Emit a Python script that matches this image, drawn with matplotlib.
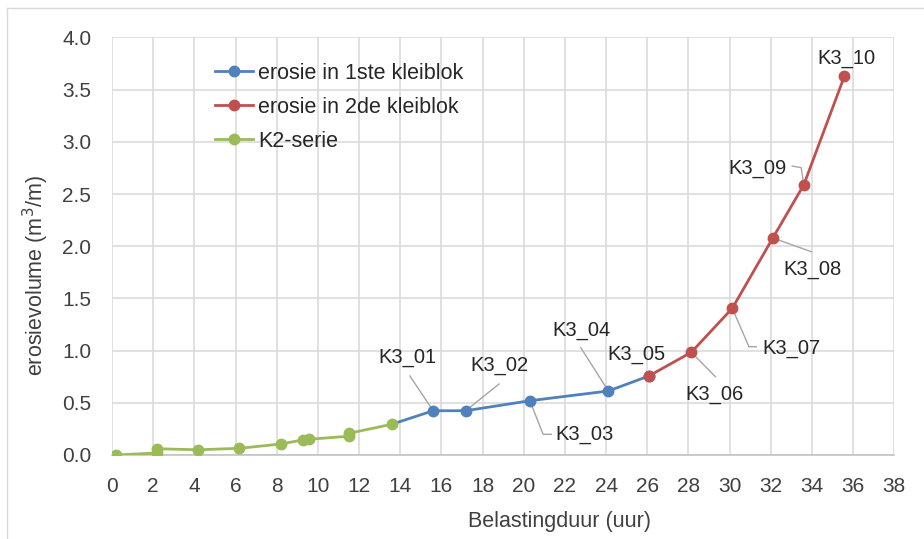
import matplotlib
matplotlib.use("Agg")
import matplotlib.pyplot as plt
from matplotlib.lines import Line2D

plt.rcParams['font.family'] = ['Liberation Sans', 'DejaVu Sans']

# --- data ---
k2_t = [0.19, 2.2, 2.2, 4.17, 6.18, 8.19, 9.26, 9.58, 11.52, 11.52, 13.58]
k2_v = [0.0, 0.02, 0.06, 0.05, 0.064, 0.105, 0.144, 0.151, 0.18, 0.208, 0.294]

blok1_t = [13.58, 15.6, 17.18, 20.3, 24.11, 26.08]
blok1_v = [0.294, 0.424, 0.424, 0.52, 0.613, 0.757]

blok2_t = [26.08, 28.14, 30.13, 32.1, 33.6, 35.58]
blok2_v = [0.757, 0.984, 1.405, 2.079, 2.586, 3.63]

k3_labels = ['K3_01', 'K3_02', 'K3_03', 'K3_04', 'K3_05',
             'K3_06', 'K3_07', 'K3_08', 'K3_09', 'K3_10']
k3_t = blok1_t[1:] + blok2_t[1:]
k3_v = blok1_v[1:] + blok2_v[1:]

series_names = ['erosie in 1ste kleiblok', 'erosie in 2de kleiblok', 'K2-serie']
colors = ['#4F81BD', '#C0504D', '#9BBB59']

x_ticks = list(range(0, 40, 2))
y_ticks = [0.0, 0.5, 1.0, 1.5, 2.0, 2.5, 3.0, 3.5, 4.0]

# label layout: (text pos, leader path points) in data coordinates
label_layout = {
    'K3_01': ((14.37, 0.93), [(14.47, 0.757)]),
    'K3_02': ((18.83, 0.853), [(18.8, 0.68)]),
    'K3_03': ((22.96, 0.201), [(20.94, 0.198), (21.34, 0.198)]),
    'K3_04': ((22.82, 1.197), [(22.77, 1.028)]),
    'K3_05': ((25.49, 0.958), []),
    'K3_06': ((29.27, 0.575), [(29.31, 0.75)]),
    'K3_07': ((33.0, 1.022), [(30.94, 1.037), (31.3, 1.037)]),
    'K3_08': ((34.01, 1.779), [(33.97, 1.947)]),
    'K3_09': ((31.34, 2.746), [(33.48, 2.752), (33.04, 2.768)]),
    'K3_10': ((35.67, 3.8), []),
}

W, H = 924, 539
fig = plt.figure(figsize=(W / 100, H / 100), dpi=100)
ax_l, ax_r, ax_t, ax_b = 112, 894.3, 37.4, 455
ax = fig.add_axes([ax_l / W, 1 - ax_b / H, (ax_r - ax_l) / W, (ax_b - ax_t) / H])

# outer chart border (only top and left visible, as in the cropped reference)
fig.lines.append(Line2D([6.5 / W, 6.5 / W], [0, 1 - 8 / H], transform=fig.transFigure,
                        color='#d9d9d9', lw=1.0))
fig.lines.append(Line2D([6.5 / W, 1], [1 - 8 / H, 1 - 8 / H], transform=fig.transFigure,
                        color='#d9d9d9', lw=1.0))

lw = 2.0
ms = 7.5
ax.plot(blok1_t[1:], blok1_v[1:], color=colors[0], lw=lw, marker='o', ms=ms,
        label=series_names[0], zorder=3)
ax.plot(blok1_t[:2], blok1_v[:2], color=colors[0], lw=lw, zorder=3)
ax.plot(blok2_t, blok2_v, color=colors[1], lw=lw, marker='o', ms=ms,
        label=series_names[1], zorder=4)
ax.plot(k2_t, k2_v, color=colors[2], lw=lw, marker='o', ms=ms,
        label=series_names[2], zorder=5)

for lab, t, v in zip(k3_labels, k3_t, k3_v):
    (tx, ty), path = label_layout[lab]
    if path:
        xs = [t] + [p[0] for p in path]
        ys = [v] + [p[1] for p in path]
        ax.plot(xs, ys, color='#a6a6a6', lw=1.0, zorder=2)
    ax.text(tx, ty, lab, ha='center', va='center', fontsize=14.5, color='#262626', zorder=6)

ax.set_xlim(0, 38)
ax.set_ylim(0, 4.0)
ax.set_xticks(x_ticks)
ax.set_yticks(y_ticks)
ax.set_yticklabels([f'{y:.1f}' for y in y_ticks])
ax.grid(True, color='#d9d9d9', lw=1.1, zorder=0)
ax.set_axisbelow(True)
for s in ['top', 'right', 'left']:
    ax.spines[s].set_visible(False)
ax.spines['bottom'].set_color('#bfbfbf')
ax.spines['bottom'].set_linewidth(1.1)
ax.tick_params(length=0, labelsize=15, colors='#404040')
ax.tick_params(axis='x', pad=16)
ax.tick_params(axis='y', pad=15)

fig.text(560 / W, 1 - 521.7 / H, 'Belastingduur (uur)', fontsize=15.5, color='#404040',
         ha='center', va='center')
fig.text(36 / W, 1 - 276 / H, 'erosievolume (m$^3$/m)', fontsize=15.5, color='#404040',
         ha='center', va='center', rotation=90)

leg = ax.legend(loc='upper left', bbox_to_anchor=((215 - ax_l) / (ax_r - ax_l), (ax_b - 63) / (ax_b - ax_t)),
                frameon=False, borderpad=0, borderaxespad=0,
                fontsize=15.5, handlelength=1.77, handletextpad=0.25, labelspacing=0.6)
for t in leg.get_texts():
    t.set_color('#262626')

fig.savefig('out.png', dpi=100)
